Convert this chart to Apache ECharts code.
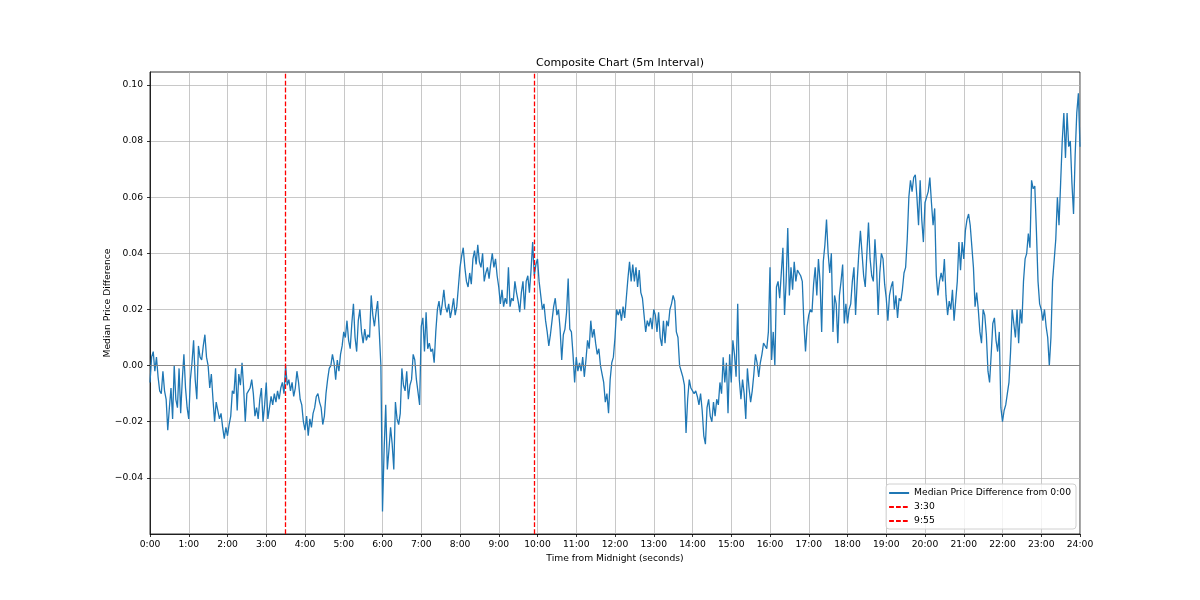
<!DOCTYPE html>
<html>
<head>
<meta charset="utf-8">
<script src="https://cdn.jsdelivr.net/npm/echarts@6/dist/echarts.min.js"></script>
<style>
  html, body { margin: 0; padding: 0; background: #fff; }
  #chart { width: 1200px; height: 600px; }
</style>
</head>
<body>
<div id="chart"></div>
<script>
// ---- Data ----
const titleText = 'Composite Chart (5m Interval)';
const seriesName = 'Median Price Difference from 0:00';
const xAxisName = 'Time from Midnight (seconds)';
const yAxisName = 'Median Price Difference';
const stepSeconds = 150; // readings every 2.5 minutes

// Median price difference, 0:00 .. 24:00 (24 readings per hour + final)
const medianDiff = [
  // 0:00
  -0.006, 0.003, 0.005, -0.002, 0.003, -0.004, -0.009, -0.010, -0.002, -0.009, -0.012, -0.023,
  -0.015, -0.008, -0.019, 0.000, -0.012, -0.015, -0.001, -0.017, -0.005, 0.004, -0.008, -0.015,
  // 1:00
  -0.019, -0.005, 0.001, 0.009, -0.005, -0.012, 0.007, 0.003, 0.002, 0.007, 0.011, 0.003,
  0.000, -0.008, -0.003, -0.012, -0.020, -0.013, -0.016, -0.019, -0.017, -0.022, -0.026, -0.022,
  // 2:00
  -0.025, -0.021, -0.018, -0.009, -0.010, -0.001, -0.016, -0.003, -0.007, 0.001, -0.008, -0.020,
  -0.010, -0.009, -0.008, -0.005, -0.010, -0.018, -0.015, -0.019, -0.012, -0.008, -0.020, -0.014,
  // 3:00
  -0.006, -0.019, -0.015, -0.011, -0.014, -0.010, -0.013, -0.009, -0.012, -0.008, -0.006, -0.010,
  0.000, -0.007, -0.005, -0.009, -0.006, -0.011, -0.008, -0.002, -0.006, -0.012, -0.014, -0.020,
  // 4:00
  -0.023, -0.018, -0.025, -0.019, -0.022, -0.017, -0.015, -0.011, -0.010, -0.013, -0.015, -0.021,
  -0.018, -0.010, -0.005, -0.001, 0.000, 0.004, 0.001, -0.005, 0.002, -0.002, 0.004, 0.007,
  // 5:00
  0.012, 0.010, 0.016, 0.009, 0.006, 0.015, 0.022, 0.010, 0.005, 0.016, 0.020, 0.012,
  0.008, 0.013, 0.009, 0.011, 0.010, 0.025, 0.018, 0.014, 0.019, 0.023, 0.012, 0.000,
  // 6:00
  -0.052, -0.030, -0.014, -0.037, -0.030, -0.022, -0.028, -0.037, -0.013, -0.019, -0.021, -0.017,
  -0.001, -0.007, -0.009, -0.002, -0.012, -0.007, -0.005, 0.004, 0.002, -0.005, -0.005, -0.014,
  // 7:00
  0.014, 0.017, 0.005, 0.019, 0.006, 0.008, 0.005, 0.006, 0.001, 0.012, 0.020, 0.023,
  0.018, 0.022, 0.027, 0.021, 0.019, 0.022, 0.017, 0.020, 0.024, 0.018, 0.021, 0.028,
  // 8:00
  0.035, 0.039, 0.042, 0.035, 0.030, 0.028, 0.033, 0.029, 0.038, 0.041, 0.036, 0.043,
  0.037, 0.035, 0.040, 0.030, 0.033, 0.035, 0.031, 0.036, 0.040, 0.035, 0.038, 0.032,
  // 9:00
  0.028, 0.022, 0.027, 0.021, 0.024, 0.022, 0.035, 0.021, 0.024, 0.023, 0.030, 0.026,
  0.023, 0.019, 0.026, 0.030, 0.020, 0.030, 0.032, 0.026, 0.034, 0.044, 0.032, 0.036,
  // 10:00
  0.038, 0.030, 0.025, 0.020, 0.022, 0.016, 0.012, 0.007, 0.011, 0.016, 0.021, 0.024,
  0.018, 0.020, 0.013, 0.002, 0.011, 0.013, 0.019, 0.031, 0.013, 0.012, 0.004, -0.006,
  // 11:00
  0.003, -0.002, 0.001, -0.002, 0.003, -0.004, 0.002, 0.009, 0.006, 0.016, 0.010, 0.013,
  0.008, 0.004, 0.006, 0.000, -0.003, -0.006, -0.013, -0.010, -0.017, -0.005, 0.001, 0.003,
  // 12:00
  0.010, 0.020, 0.018, 0.020, 0.016, 0.021, 0.017, 0.024, 0.031, 0.037, 0.030, 0.036,
  0.030, 0.035, 0.028, 0.034, 0.026, 0.024, 0.018, 0.012, 0.016, 0.014, 0.017, 0.013,
  // 13:00
  0.020, 0.018, 0.012, 0.019, 0.010, 0.007, 0.016, 0.008, 0.016, 0.014, 0.020, 0.022,
  0.025, 0.023, 0.012, 0.010, 0.000, -0.002, -0.004, -0.007, -0.024, -0.012, -0.005, -0.008,
  // 14:00
  -0.008, -0.010, -0.009, -0.011, -0.014, -0.010, -0.016, -0.025, -0.028, -0.015, -0.012, -0.018,
  -0.020, -0.013, -0.018, -0.012, -0.014, -0.006, -0.010, 0.003, -0.006, 0.001, -0.017, 0.004,
  // 15:00
  -0.006, 0.009, 0.004, -0.004, 0.022, -0.005, -0.012, -0.005, -0.010, -0.019, -0.001, -0.008,
  -0.013, -0.009, -0.003, 0.004, 0.001, -0.004, 0.001, 0.004, 0.008, 0.008, 0.006, 0.012,
  // 16:00
  0.035, 0.002, 0.012, 0.000, 0.028, 0.030, 0.024, 0.033, 0.042, 0.018, 0.030, 0.049,
  0.025, 0.035, 0.027, 0.037, 0.030, 0.034, 0.033, 0.032, 0.030, 0.015, 0.005, 0.014,
  // 17:00
  0.018, 0.020, 0.019, 0.029, 0.035, 0.025, 0.038, 0.030, 0.012, 0.037, 0.043, 0.052,
  0.040, 0.033, 0.040, 0.012, 0.025, 0.022, 0.008, 0.025, 0.030, 0.036, 0.015, 0.022,
  // 18:00
  0.015, 0.020, 0.022, 0.030, 0.035, 0.018, 0.030, 0.040, 0.048, 0.040, 0.032, 0.028,
  0.040, 0.051, 0.038, 0.032, 0.030, 0.045, 0.035, 0.018, 0.033, 0.040, 0.038, 0.029,
  // 19:00
  0.024, 0.016, 0.025, 0.028, 0.030, 0.020, 0.025, 0.017, 0.024, 0.023, 0.027, 0.033,
  0.035, 0.045, 0.060, 0.066, 0.062, 0.067, 0.068, 0.060, 0.050, 0.066, 0.052, 0.044,
  // 20:00
  0.058, 0.060, 0.062, 0.067, 0.058, 0.050, 0.056, 0.032, 0.025, 0.030, 0.033, 0.030,
  0.038, 0.025, 0.018, 0.023, 0.020, 0.027, 0.016, 0.023, 0.030, 0.044, 0.034, 0.044,
  // 21:00
  0.038, 0.048, 0.052, 0.054, 0.050, 0.050, 0.035, 0.021, 0.026, 0.020, 0.012, 0.008,
  0.020, 0.018, 0.011, -0.002, -0.006, 0.004, 0.015, 0.017, 0.009, 0.005, 0.012, -0.015,
  // 22:00
  -0.020, -0.016, -0.014, -0.010, -0.006, 0.005, 0.020, 0.015, 0.010, 0.020, 0.008, 0.020,
  0.015, 0.030, 0.038, 0.040, 0.047, 0.042, 0.066, 0.063, 0.064, 0.048, 0.030, 0.022,
  // 23:00
  0.020, 0.016, 0.020, 0.014, 0.010, 0.000, 0.010, 0.030, 0.030, 0.045, 0.060, 0.050,
  0.065, 0.080, 0.090, 0.074, 0.090, 0.078, 0.080, 0.065, 0.054, 0.075, 0.090, 0.097,
  // 24:00
  0.078
];

// Vertical reference lines
const markerLabels = ['3:30', '9:55'];
const markerSeconds = [12600, 35700];

// Axis ticks
const xMin = 0, xMax = 86400, xStep = 3600;
const yMin = -0.06, yMax = 0.1046, yStep = 0.02;
const yTickValues = [-0.04, -0.02, 0, 0.02, 0.04, 0.06, 0.08, 0.10];

// ---- Build chart ----
const points = medianDiff.map((v, i) => [i * stepSeconds, v]);
const FONT = 'DejaVu Sans';
const FS = 9.2;

const markerSeries = markerLabels.map((lab, k) => ({
  name: lab,
  type: 'line',
  data: [],
  symbol: 'none',
  lineStyle: { color: '#ff0000', width: 1.3, type: [4.8, 2.1] },
  itemStyle: { color: '#ff0000' },
  z: 4,
  markLine: {
    silent: true,
    symbol: ['none', 'none'],
    label: { show: false },
    lineStyle: { color: '#ff0000', width: 1.3, type: [4.8, 2.1] },
    data: [{ xAxis: markerSeconds[k] }]
  }
}));

const chart = echarts.init(document.getElementById('chart'));
chart.setOption({
  animation: false,
  backgroundColor: '#ffffff',
  textStyle: { fontFamily: FONT },
  title: {
    text: titleText,
    left: 615,
    top: 53,
    textAlign: 'center',
    textStyle: { fontFamily: FONT, fontSize: 11, fontWeight: 'normal', color: '#000' }
  },
  grid: {
    left: 150, right: 120, top: 72, bottom: 66,
    show: true, borderColor: '#000', borderWidth: 0.8, backgroundColor: 'transparent'
  },
  legend: {
    data: [seriesName].concat(markerLabels),
    orient: 'vertical',
    right: 124,
    bottom: 71,
    itemWidth: 20,
    itemHeight: 10,
    itemGap: 4,
    padding: [4, 5, 3, 2],
    borderColor: '#d0d0d0',
    borderWidth: 1,
    borderRadius: 3,
    backgroundColor: 'rgba(255,255,255,0.8)',
    itemStyle: { color: 'rgba(0,0,0,0)', borderWidth: 0, borderColor: 'rgba(0,0,0,0)' },
    textStyle: { fontFamily: FONT, fontSize: FS, color: '#000', lineHeight: 10 }
  },
  xAxis: {
    type: 'value',
    min: xMin, max: xMax, interval: xStep,
    name: xAxisName,
    nameLocation: 'middle',
    nameGap: 18,
    nameTextStyle: { fontFamily: FONT, fontSize: FS, color: '#000' },
    axisLine: { show: true, onZero: false, lineStyle: { color: '#000', width: 0.8 } },
    axisTick: { show: true, length: 3, lineStyle: { color: '#000', width: 0.8 } },
    axisLabel: {
      margin: 6, fontFamily: FONT, fontSize: FS, color: '#000', hideOverlap: false,
      formatter: v => Math.round(v / 3600) + ':00'
    },
    splitLine: { show: true, lineStyle: { color: '#b0b0b0', width: 0.7 } }
  },
  yAxis: {
    type: 'value',
    min: yMin, max: yMax, interval: yStep,
    name: yAxisName,
    nameLocation: 'middle',
    nameGap: 38,
    nameMoveOverlap: false,
    nameTextStyle: { fontFamily: FONT, fontSize: FS, color: '#000' },
    axisLine: { show: true, onZero: false, lineStyle: { color: '#000', width: 0.8 } },
    axisTick: { show: true, length: 3, customValues: yTickValues, lineStyle: { color: '#000', width: 0.8 } },
    axisLabel: {
      margin: 7, fontFamily: FONT, fontSize: FS, color: '#000',
      customValues: yTickValues,
      formatter: v => {
        const r = Math.round(v * 100) / 100;
        if (v < -0.059 || v > 0.101) return '';
        if (Math.abs(v / yStep - Math.round(v / yStep)) > 1e-6) return '';
        if (r === 0) return '0.00';
        return r.toFixed(2).replace('-', '\u2212');
      }
    },
    splitLine: { show: true, lineStyle: { color: '#b0b0b0', width: 0.7 } }
  },
  series: [
    {
      name: '__zero',
      type: 'line',
      data: [],
      symbol: 'none',
      z: 1,
      markLine: {
        silent: true,
        symbol: ['none', 'none'],
        label: { show: false },
        lineStyle: { color: '#808080', width: 0.9, type: 'solid' },
        data: [{ yAxis: 0 }]
      }
    },
    {
      name: seriesName,
      type: 'line',
      data: points,
      showSymbol: false,
      symbol: 'none',
      z: 3,
      lineStyle: { color: '#1f77b4', width: 1.3 },
      itemStyle: { color: '#1f77b4' }
    }
  ].concat(markerSeries)
});
</script>
</body>
</html>
